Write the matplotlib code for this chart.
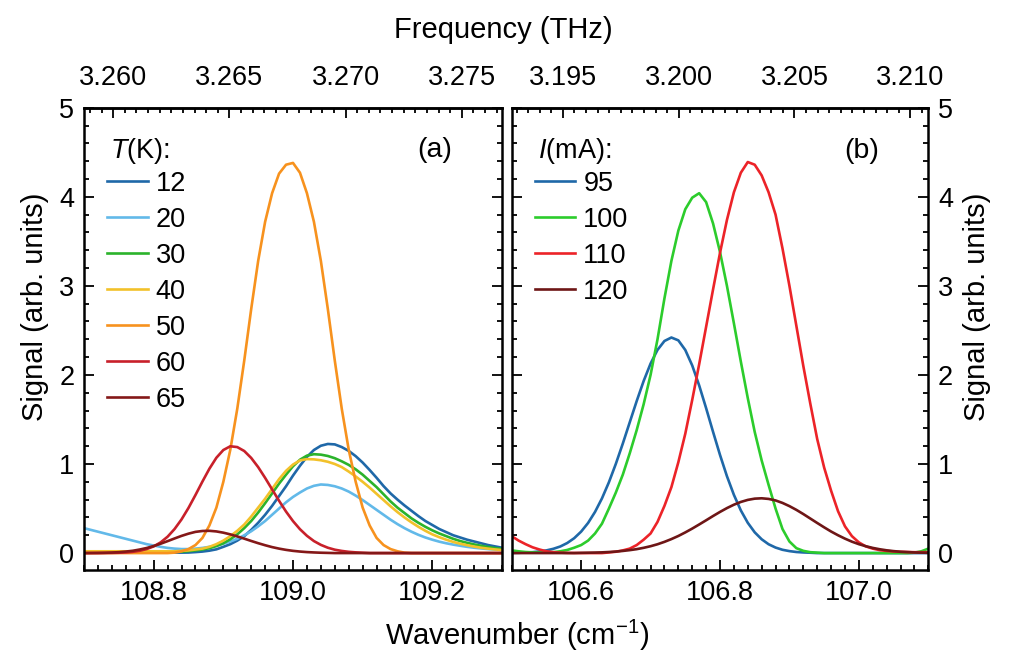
import numpy as np
import matplotlib
matplotlib.use("Agg")
import matplotlib.pyplot as plt
from matplotlib.ticker import MultipleLocator, FormatStrFormatter

plt.rcParams["font.family"] = ["Liberation Sans", "DejaVu Sans"]
plt.rcParams["mathtext.fontset"] = "custom"
plt.rcParams["mathtext.rm"] = "Liberation Sans"
plt.rcParams["mathtext.it"] = "Liberation Sans:italic"
FS_TICK = 19.5
FS_LABEL = 21

# ---- panel (a): temperature series, sampled every 0.01 cm^-1 ----
wn_a = np.linspace(108.70, 109.30, 61)
temps = ["12", "20", "30", "40", "50", "60", "65"]
sig_12K = [0.005] * 15 + [
    0.006, 0.011, 0.017, 0.027, 0.042, 0.07, 0.10, 0.14, 0.19, 0.26,
    0.34, 0.43, 0.53, 0.64, 0.75, 0.87, 0.98, 1.08, 1.157, 1.205,
    1.225, 1.22, 1.19, 1.147, 1.088, 1.016, 0.933, 0.845, 0.752, 0.67,
    0.60, 0.535, 0.475, 0.415, 0.36, 0.315, 0.27, 0.235, 0.20, 0.175,
    0.15, 0.13, 0.11, 0.09, 0.075, 0.06]
sig_20K = [
    0.28, 0.26, 0.24, 0.22, 0.20, 0.18, 0.16, 0.14, 0.12, 0.10,
    0.085, 0.07, 0.058, 0.05, 0.045, 0.045, 0.05, 0.058, 0.07, 0.085,
    0.105, 0.13, 0.16, 0.20, 0.245, 0.30, 0.36, 0.43, 0.50, 0.57,
    0.63, 0.68, 0.725, 0.755, 0.77, 0.765, 0.75, 0.725, 0.69, 0.645,
    0.595, 0.54, 0.485, 0.43, 0.375, 0.325, 0.28, 0.24, 0.205, 0.175,
    0.15, 0.128, 0.11, 0.095, 0.082, 0.07, 0.06, 0.052, 0.045, 0.04,
    0.036]
sig_30K = [0.015] * 15 + [
    0.022, 0.03, 0.04, 0.055, 0.078, 0.11, 0.155, 0.21, 0.28, 0.36,
    0.455, 0.56, 0.67, 0.78, 0.88, 0.975, 1.048, 1.094, 1.11, 1.105,
    1.09, 1.065, 1.03, 0.99, 0.94, 0.88, 0.81, 0.74, 0.66, 0.58,
    0.51, 0.45, 0.39, 0.34, 0.295, 0.255, 0.22, 0.19, 0.16, 0.135,
    0.115, 0.097, 0.082, 0.068, 0.056, 0.046]
sig_40K = [0.02] * 14 + [
    0.025, 0.03, 0.04, 0.05, 0.07, 0.10, 0.14, 0.19, 0.25, 0.32,
    0.41, 0.51, 0.61, 0.72, 0.83, 0.923, 0.994, 1.04, 1.055, 1.052,
    1.042, 1.025, 1.0, 0.965, 0.915, 0.86, 0.80, 0.735, 0.665, 0.595,
    0.525, 0.46, 0.40, 0.345, 0.295, 0.25, 0.21, 0.178, 0.15, 0.125,
    0.105, 0.088, 0.073, 0.06, 0.05, 0.041, 0.034]
sig_50K = [0.0] * 13 + [
    0.005, 0.02, 0.045, 0.09, 0.17, 0.31, 0.51, 0.80, 1.16, 1.62,
    2.16, 2.74, 3.28, 3.72, 4.04, 4.26, 4.36, 4.38, 4.27, 4.04,
    3.72, 3.28, 2.74, 2.16, 1.62, 1.16, 0.80, 0.51, 0.31, 0.17,
    0.09, 0.045, 0.02, 0.005] + [0.0] * 14
sig_60K = [0.0, 0.0, 0.0, 0.001, 0.002,
    0.004, 0.007, 0.014, 0.026, 0.045, 0.075, 0.12, 0.184, 0.27, 0.378,
    0.507, 0.652, 0.803, 0.947, 1.07, 1.157, 1.199, 1.19, 1.146, 1.068,
    0.965, 0.844, 0.715, 0.587, 0.466, 0.359, 0.268, 0.194, 0.135, 0.092,
    0.06, 0.038, 0.024, 0.014, 0.008, 0.004] + [0.0] * 20
sig_65K = [
    0.0, 0.001, 0.002, 0.0035, 0.006, 0.010, 0.017, 0.026, 0.040, 0.057,
    0.079, 0.105, 0.134, 0.164, 0.193, 0.218, 0.238, 0.248, 0.25, 0.243,
    0.229, 0.21, 0.187, 0.162, 0.136, 0.111, 0.088, 0.067, 0.050, 0.036,
    0.025, 0.017, 0.011, 0.007, 0.004, 0.002] + [0.0] * 25
series_a = [sig_12K, sig_20K, sig_30K, sig_40K, sig_50K, sig_60K, sig_65K]
colors_a = ["#1f68a8", "#62b9e9", "#2bb32b", "#f2c12a", "#f7921e", "#c8202a", "#841818"]

# ---- panel (b): current series ----
wn_b = np.linspace(106.50, 107.10, 61)
currents = ["95", "100", "110", "120"]
sig_95mA = [
    0.002, 0.003, 0.006, 0.01, 0.018, 0.03, 0.048, 0.074, 0.113, 0.167,
    0.241, 0.338, 0.462, 0.614, 0.795, 1.002, 1.229, 1.468, 1.706, 1.931,
    2.127, 2.281, 2.381, 2.42, 2.388, 2.28, 2.106, 1.882, 1.627, 1.361,
    1.102, 0.863, 0.654, 0.479, 0.34, 0.233, 0.155, 0.099, 0.062, 0.037,
    0.022, 0.012, 0.007, 0.004] + [0.0] * 17
sig_100mA = [
    0.03, 0.02, 0.012, 0.008, 0.006, 0.007, 0.01, 0.02, 0.035, 0.06,
    0.09, 0.14, 0.22, 0.33, 0.50, 0.68, 0.88, 1.12, 1.38, 1.67,
    2.00, 2.40, 2.86, 3.28, 3.62, 3.86, 3.99, 4.04, 3.94, 3.70,
    3.38, 3.00, 2.58, 2.15, 1.74, 1.36, 1.04, 0.765, 0.50, 0.27,
    0.13, 0.055, 0.025, 0.01, 0.005] + [0.0] * 13 + [0.005, 0.02, 0.05]
sig_110mA = [
    0.19, 0.14, 0.10, 0.065, 0.04, 0.02, 0.01, 0.005, 0.002, 0.001,
    0.0, 0.0, 0.0, 0.0, 0.007, 0.015, 0.03, 0.05, 0.09, 0.15,
    0.22, 0.35, 0.53, 0.74, 1.02, 1.34, 1.72, 2.12, 2.54, 2.96,
    3.37, 3.74, 4.05, 4.27, 4.39, 4.36, 4.24, 4.05, 3.80, 3.42,
    3.00, 2.55, 2.10, 1.68, 1.28, 0.96, 0.70, 0.47, 0.30, 0.19,
    0.12, 0.075, 0.05, 0.033, 0.024, 0.018, 0.014, 0.012, 0.01, 0.01,
    0.01]
sig_120mA = [0.0] * 10 + [
    0.0025, 0.004, 0.0056, 0.008, 0.012, 0.017, 0.024, 0.033, 0.044, 0.059,
    0.077, 0.099, 0.126, 0.157, 0.192, 0.232, 0.275, 0.321, 0.368, 0.416,
    0.462, 0.505, 0.543, 0.574, 0.597, 0.611, 0.615, 0.608, 0.591, 0.563,
    0.527, 0.485, 0.438, 0.388, 0.338, 0.289, 0.242, 0.20, 0.162, 0.128,
    0.10, 0.077, 0.058, 0.043, 0.031, 0.022, 0.015, 0.011, 0.007, 0.005,
    0.003]
series_b = [sig_95mA, sig_100mA, sig_110mA, sig_120mA]
colors_b = ["#1f68a8", "#2ccc2c", "#ec2328", "#6e1616"]

freq_ticks_a = [3.260, 3.265, 3.270, 3.275]
freq_ticks_b = [3.195, 3.200, 3.205, 3.210]
C_THZ = 0.0299792458  # THz per cm^-1


def to_thz(w):
    return w * C_THZ


def to_wn(f):
    return f / C_THZ


def style_axes(ax, xlim, xticks, fticks, side):
    ax.set_xlim(*xlim)
    ax.set_ylim(-0.19, 5)
    ax.set_xticks(xticks)
    ax.xaxis.set_major_formatter(FormatStrFormatter("%.1f"))
    ax.xaxis.set_minor_locator(MultipleLocator(0.02))
    ax.yaxis.set_major_locator(MultipleLocator(1))
    ax.yaxis.set_minor_locator(MultipleLocator(0.2))
    ax.tick_params(which="both", direction="in", width=1.3, labelsize=FS_TICK,
                   top=False, bottom=True, left=True, right=True,
                   labelleft=(side == "left"), labelright=(side == "right"))
    ax.tick_params(which="major", length=7)
    ax.tick_params(which="minor", length=3.5)
    ax.tick_params(axis="x", pad=7)
    ax.tick_params(axis="y", pad=7)
    for sp in ax.spines.values():
        sp.set_linewidth(1.8)

    sec = ax.secondary_xaxis("top", functions=(to_thz, to_wn))
    sec.set_xticks(fticks)
    sec.xaxis.set_major_formatter(FormatStrFormatter("%.3f"))
    sec.xaxis.set_minor_locator(MultipleLocator(0.0005))
    sec.tick_params(which="both", direction="in", width=1.3, labelsize=FS_TICK, pad=12)
    sec.tick_params(which="major", length=7)
    sec.tick_params(which="minor", length=3.5)
    sec.spines["top"].set_linewidth(1.8)

    ax.set_ylabel("Signal (arb. units)", fontsize=FS_LABEL)
    if side == "right":
        ax.yaxis.set_label_position("right")
        ax.yaxis.set_label_coords(1.083, 0.57)
    else:
        ax.yaxis.set_label_coords(-0.083, 0.569)


fig = plt.figure(figsize=(10.24, 6.6), dpi=100)
ax_a = fig.add_axes([84 / 1024, 1 - 570 / 660, 418 / 1024, 462.3 / 660])
ax_b = fig.add_axes([511.7 / 1024, 1 - 570 / 660, 416.6 / 1024, 462.3 / 660])

for ys, lab, col in zip(series_a, temps, colors_a):
    ax_a.plot(wn_a, ys, color=col, lw=1.9, label=lab)
for ys, lab, col in zip(series_b, currents, colors_b):
    ax_b.plot(wn_b, ys, color=col, lw=1.9, label=lab)

style_axes(ax_a, (108.7, 109.3), [108.8, 109.0, 109.2], freq_ticks_a, "left")
style_axes(ax_b, (106.5, 107.1), [106.6, 106.8, 107.0], freq_ticks_b, "right")

leg_kw = dict(loc="upper left", frameon=False, fontsize=FS_TICK,
              handlelength=1.5, handletextpad=0.3, labelspacing=0.37,
              borderaxespad=0.0, borderpad=0.0)
ax_a.legend(bbox_to_anchor=(0.055, 0.864), **leg_kw)
ax_b.legend(bbox_to_anchor=(0.055, 0.864), **leg_kw)
ax_a.text(0.062, 0.906, "$T$(K):", transform=ax_a.transAxes,
          fontsize=FS_TICK, ha="left", va="center")
ax_b.text(0.062, 0.906, "$I$(mA):", transform=ax_b.transAxes,
          fontsize=FS_TICK, ha="left", va="center")

ax_a.text(0.84, 0.908, "(a)", transform=ax_a.transAxes, fontsize=20.5,
          ha="center", va="center")
ax_b.text(0.84, 0.906, "(b)", transform=ax_b.transAxes, fontsize=20.5,
          ha="center", va="center")

fig.text(503 / 1024, 1 - 30 / 660, "Frequency (THz)", fontsize=FS_LABEL,
         ha="center", va="center")
fig.text(517 / 1024, 1 - 635 / 660, "Wavenumber (cm$^{-1}$)", fontsize=FS_LABEL,
         ha="center", va="center")

fig.savefig("out.png", dpi=100)
